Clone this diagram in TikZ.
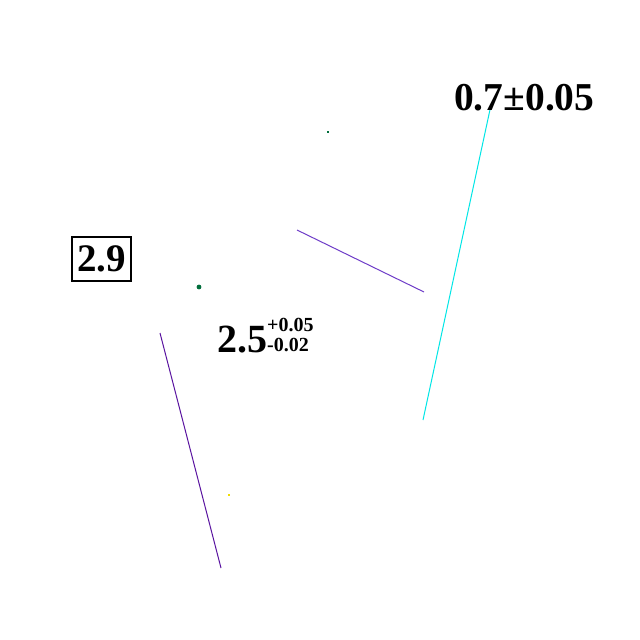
\documentclass[tikz,border=0pt]{standalone}
\usepackage{fontspec}
\setmainfont{Liberation Serif}
\definecolor{cyanline}{RGB}{0,230,230}
\definecolor{violetA}{RGB}{110,60,200}
\definecolor{violetB}{RGB}{90,20,160}
\definecolor{dotgreen}{RGB}{0,110,60}
\definecolor{dotyellow}{RGB}{240,220,0}
\tikzset{
  seg/.style={line width=1pt},
  big/.style={font=\fontsize{40}{40}\selectfont\bfseries, inner sep=0pt},
  small/.style={font=\fontsize{20}{20}\selectfont\bfseries, inner sep=0pt, anchor=base west},
}
\begin{document}
\begin{tikzpicture}[x=1pt,y=-1pt]
\useasboundingbox[fill=white] (0,0) rectangle (640,640);
\coordinate (c1) at (491,105);
\coordinate (c2) at (423,420);
\coordinate (p1) at (297,230);
\coordinate (p2) at (424,292);
\coordinate (q1) at (160,333);
\coordinate (q2) at (221,568);
\draw[seg, cyanline] (c1) -- (c2);
\draw[seg, violetA] (p1) -- (p2);
\draw[seg, violetB] (q1) -- (q2);
\fill[dotgreen] (199,287) circle (2.4pt);
\node[fill=dotgreen, inner sep=0pt, minimum size=1.5pt] (d1) at (328,132) {};
\node[fill=dotyellow, inner sep=0pt, minimum size=1.5pt] (d2) at (229,495) {};
\node[big, anchor=base west, font=\fontsize{39.5}{40}\selectfont\bfseries] (t1) at (454,110) {0.7±0.05};
\node[draw, line width=1.3pt, font=\fontsize{39}{39}\selectfont\bfseries, inner sep=0pt, minimum width=59pt, minimum height=44pt] (t2) at (101.5,259) {2.9};
\node[big, anchor=base west] (t3) at (217,352) {2.5};
\node[small] (t4) at (267,331) {+0.05};
\node[small] (t5) at (267,351) {-0.02};
\end{tikzpicture}
\end{document}
